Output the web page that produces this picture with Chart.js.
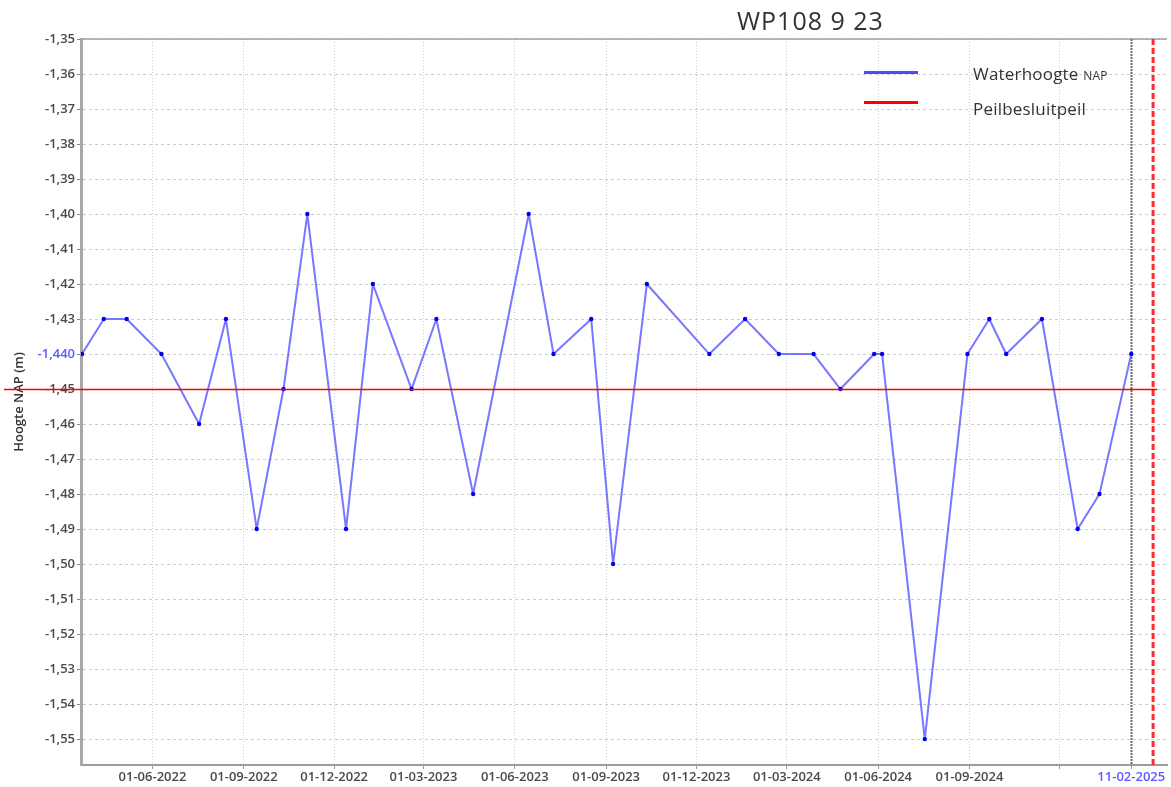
<!DOCTYPE html>
<html>
<head>
<meta charset="utf-8">
<script src="https://cdn.jsdelivr.net/npm/chart.js@4"></script>
<style>
  html, body { margin: 0; padding: 0; background: #fff; }
  #wrap { position: relative; width: 1171px; height: 787px; }
  #title { position: absolute; left: 737px; top: 3px; font: 25px "Open Sans", sans-serif; letter-spacing: 1px; color: #333; }
  .lg { position: absolute; font: 17px "Open Sans", sans-serif; letter-spacing: 0.2px; color: #333; }
  .lg small { font-size: 12px; }
  .swatch { position: absolute; height: 3px; width: 54px; }
</style>
</head>
<body>
<div id="wrap">
  <canvas id="chart" width="1171" height="787"></canvas>
  <div id="title">WP108 9 23</div>
  <div class="swatch" style="left:864px; top:71px; background:#4b4bff;"></div>
  <div class="lg" style="left:973px; top:62px;">Waterhoogte <small>NAP</small></div>
  <div class="swatch" style="left:864px; top:101px; background:#ff0000;"></div>
  <div class="lg" style="left:973px; top:97px;">Peilbesluitpeil</div>
</div>
<script>
// meetmomenten en waterhoogte t.o.v. NAP (m)
const measureDates = [
  '22-03-2022', '13-04-2022', '06-05-2022', '10-06-2022', '18-07-2022', '14-08-2022',
  '14-09-2022', '11-10-2022', '04-11-2022', '13-12-2022', '09-01-2023', '17-02-2023',
  '14-03-2023', '20-04-2023', '15-06-2023', '10-07-2023', '17-08-2023', '08-09-2023',
  '12-10-2023', '14-12-2023', '19-01-2024', '22-02-2024', '28-03-2024', '24-04-2024',
  '28-05-2024', '05-06-2024', '18-07-2024', '30-08-2024', '21-09-2024', '08-10-2024',
  '13-11-2024', '19-12-2024', '10-01-2025', '11-02-2025'
];
const waterLevels = [
  -1.44, -1.43, -1.43, -1.44, -1.46, -1.43,
  -1.49, -1.45, -1.40, -1.49, -1.42, -1.45,
  -1.43, -1.48, -1.40, -1.44, -1.43, -1.50,
  -1.42, -1.44, -1.43, -1.44, -1.44, -1.45,
  -1.44, -1.44, -1.55, -1.44, -1.43, -1.44,
  -1.43, -1.49, -1.48, -1.44
];

const peilbesluitpeil = -1.45;
const lastMeasurement = '11-02-2025';
const deadlineDate = '05-03-2025';

const xRange = ['21-03-2022', '19-03-2025'];
const xTickDates = [
  '01-06-2022', '01-09-2022', '01-12-2022', '01-03-2023', '01-06-2023', '01-09-2023',
  '01-12-2023', '01-03-2024', '01-06-2024', '01-09-2024', '01-12-2024', '11-02-2025'
];
const xTickLabels = [
  '01-06-2022', '01-09-2022', '01-12-2022', '01-03-2023', '01-06-2023', '01-09-2023',
  '01-12-2023', '01-03-2024', '01-06-2024', '01-09-2024', '', '11-02-2025'
];

const yRange = [-1.5574, -1.35];
const yTicks = [-1.35, -1.36, -1.37, -1.38, -1.39, -1.40, -1.41, -1.42, -1.43, -1.44, -1.45,
  -1.46, -1.47, -1.48, -1.49, -1.50, -1.51, -1.52, -1.53, -1.54, -1.55];
const yTickLabels = ['-1,35', '-1,36', '-1,37', '-1,38', '-1,39', '-1,40', '-1,41', '-1,42', '-1,43', '-1,440', '-1,45',
  '-1,46', '-1,47', '-1,48', '-1,49', '-1,50', '-1,51', '-1,52', '-1,53', '-1,54', '-1,55'];

function toDay(s) {
  const [d, m, y] = s.split('-').map(Number);
  return Date.UTC(y, m - 1, d) / 86400000;
}

const highlight = '#5a5aff';
const tickFont = { family: 'Open Sans', size: 13, weight: '600' };

// hulplijnen: peilbesluitpeil, laatste meting en einddatum
const refLines = {
  id: 'refLines',
  beforeDatasetsDraw(chart) {
    const { ctx, chartArea, scales } = chart;
    ctx.save();
    // bovenrand
    ctx.strokeStyle = '#a0a0a0';
    ctx.lineWidth = 1.5;
    ctx.beginPath();
    ctx.moveTo(chartArea.left, chartArea.top);
    ctx.lineTo(chartArea.right, chartArea.top);
    ctx.stroke();
    // laatste meting
    const xl = Math.round(scales.x.getPixelForValue(toDay(lastMeasurement))) + 0.5;
    ctx.strokeStyle = '#6a6a6a';
    ctx.lineWidth = 2;
    ctx.setLineDash([2, 1]);
    ctx.beginPath();
    ctx.moveTo(xl, chartArea.top);
    ctx.lineTo(xl, chartArea.bottom);
    ctx.stroke();
    // einddatum
    const xd = scales.x.getPixelForValue(toDay(deadlineDate));
    ctx.strokeStyle = '#ff2a2a';
    ctx.lineWidth = 3;
    ctx.setLineDash([6, 3]);
    ctx.beginPath();
    ctx.moveTo(xd, chartArea.top);
    ctx.lineTo(xd, chartArea.bottom);
    ctx.stroke();
    ctx.restore();
  },
  afterDatasetsDraw(chart) {
    const { ctx, scales } = chart;
    const y = Math.round(scales.y.getPixelForValue(peilbesluitpeil)) + 0.5;
    const xEnd = scales.x.getPixelForValue(toDay(deadlineDate)) + 4;
    ctx.save();
    ctx.strokeStyle = '#ff0000';
    ctx.lineWidth = 1.5;
    ctx.beginPath();
    ctx.moveTo(4, y);
    ctx.lineTo(xEnd, y);
    ctx.stroke();
    ctx.restore();
  }
};

new Chart(document.getElementById('chart'), {
  type: 'line',
  data: {
    datasets: [{
      label: 'Waterhoogte NAP',
      data: measureDates.map((d, i) => ({ x: toDay(d), y: waterLevels[i] })),
      borderColor: 'rgba(95, 95, 255, 0.85)',
      borderWidth: 2,
      borderJoinStyle: 'round',
      pointRadius: 2.2,
      pointBackgroundColor: '#0000ee',
      pointBorderWidth: 0,
      tension: 0
    }]
  },
  options: {
    responsive: false,
    animation: false,
    devicePixelRatio: 1,
    layout: { padding: { top: 39, right: 3, left: 0, bottom: 0 } },
    plugins: { legend: { display: false }, tooltip: { enabled: false } },
    scales: {
      x: {
        type: 'linear',
        min: toDay(xRange[0]),
        max: toDay(xRange[1]),
        afterBuildTicks: s => { s.ticks = xTickDates.map(d => ({ value: toDay(d) })); },
        afterFit: s => { s.height = 22; },
        ticks: {
          autoSkip: false,
          maxRotation: 0,
          padding: 0,
          font: tickFont,
          color: c => (c.index === xTickDates.length - 1 ? highlight : '#4a4a4a'),
          callback: (v, i) => xTickLabels[i]
        },
        grid: { color: '#cdcdcd', tickLength: 4, tickColor: '#999' },
        border: { color: '#9c9c9c', width: 2, dash: [1, 2] }
      },
      y: {
        min: yRange[0],
        max: yRange[1],
        afterBuildTicks: s => { s.ticks = yTicks.map(v => ({ value: v })); },
        afterFit: s => { s.width = 81; },
        ticks: {
          padding: 2,
          font: tickFont,
          color: c => (yTicks[c.index] === -1.44 ? highlight : '#4a4a4a'),
          callback: (v, i) => yTickLabels[i]
        },
        grid: { color: '#cdcdcd', tickLength: 4, tickColor: '#888' },
        border: { color: '#a8a8a8', width: 3, dash: [3, 3] },
        title: {
          display: true,
          text: 'Hoogte NAP (m)',
          color: '#333',
          padding: { top: 11, bottom: 0 },
          font: { family: 'Open Sans', size: 13, weight: '600' }
        }
      }
    }
  },
  plugins: [refLines]
});
</script>
</body>
</html>
